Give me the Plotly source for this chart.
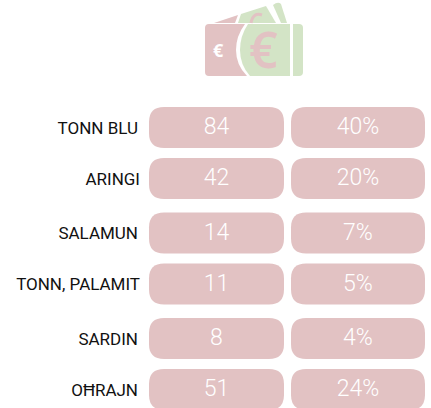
import plotly.graph_objects as go

categories = ["TONN BLU", "ARINGI", "SALAMUN", "TONN, PALAMIT", "SARDIN", "OĦRAJN"]
tonnes = [84, 42, 14, 11, 8, 51]
shares = [40, 20, 7, 5, 4, 24]

PINK = "#e2c2c3"
GREEN = "#d3e4c6"
W, H = 431, 408
row_top = [107, 158, 212.5, 263.5, 318, 369]
row_h = 41
label_right = [138, 140, 138, 140, 138, 138]
col1 = (149, 284)
col2 = (291, 425)
R = 15


def rounded(x0, y0, x1, y1, r):
    return (f"M{x0+r},{y0} L{x1-r},{y0} Q{x1},{y0} {x1},{y0+r} L{x1},{y1-r} Q{x1},{y1} {x1-r},{y1} "
            f"L{x0+r},{y1} Q{x0},{y1} {x0},{y1-r} L{x0},{y0+r} Q{x0},{y0} {x0+r},{y0} Z")


shapes = []
for t in row_top:
    for c in (col1, col2):
        shapes.append(dict(type="path", path=rounded(c[0], t, c[1], t + row_h, R),
                           fillcolor=PINK, line_width=0, layer="below", xref="x", yref="y"))


def icon(path, color):
    shapes.append(dict(type="path", path=path, fillcolor=color, line_width=0, layer="below", xref="x", yref="y"))


# money icon: rear notes
icon("M214,23 L238,15 L235,23 Z", PINK)
icon("M238,23 L241,14 L266,6 L276,23 Z", GREEN)
icon("M273,5 Q278,1 281,4 L287,23 L281,23 Z", GREEN)
shapes.append(dict(type="path", path="M262,15 Q253,12 251,23", line=dict(color=PINK, width=3),
                   layer="below", xref="x", yref="y"))
# front note
icon("M209,24 L245,24 Q236,36 236,50 Q236,65 247,76 L209,76 Q205,76 205,72 L205,28 Q205,24 209,24 Z", PINK)
icon("M248,24 L290,24 L290,76 L250,76 Q240,65 240,50 Q240,36 248,24 Z", GREEN)
icon("M293,24 L299,24 Q303,24 303,28 L303,72 Q303,76 299,76 L293,76 Z", GREEN)

fig = go.Figure()
fig.add_trace(go.Scatter(
    x=label_right, y=[t + row_h / 2 + 2 for t in row_top], text=categories,
    mode="text", textposition="middle left", hoverinfo="skip",
    textfont=dict(family="Roboto", size=17, color="#111111")))
fig.add_trace(go.Scatter(
    x=[(col1[0] + col1[1]) / 2] * 6, y=[t + row_h / 2 + 1 for t in row_top], text=[str(v) for v in tonnes],
    mode="text", textposition="middle center", hoverinfo="skip",
    textfont=dict(family="Roboto", size=23, color="#ffffff", weight=300)))
fig.add_trace(go.Scatter(
    x=[(col2[0] + col2[1]) / 2] * 6, y=[t + row_h / 2 + 1 for t in row_top], text=[f"{v}%" for v in shares],
    mode="text", textposition="middle center", hoverinfo="skip",
    textfont=dict(family="Roboto", size=23, color="#ffffff", weight=300)))

annotations = [
    dict(x=218, y=50, text="€", showarrow=False, xref="x", yref="y",
         font=dict(family="Noto Sans", size=18, color="#ffffff", weight=700)),
    dict(x=263, y=49, text="€", showarrow=False, xref="x", yref="y",
         font=dict(family="Noto Sans", size=50, color=PINK, weight=600)),
]

fig.update_layout(
    width=W, height=H, margin=dict(l=0, r=0, t=0, b=0),
    paper_bgcolor="#ffffff", plot_bgcolor="#ffffff", showlegend=False,
    xaxis=dict(range=[0, W], visible=False, fixedrange=True),
    yaxis=dict(range=[H, 0], visible=False, fixedrange=True),
    shapes=shapes, annotations=annotations,
)
fig.write_html("out.html", config={"displayModeBar": False},
               post_script="document.body.style.margin='0';")
